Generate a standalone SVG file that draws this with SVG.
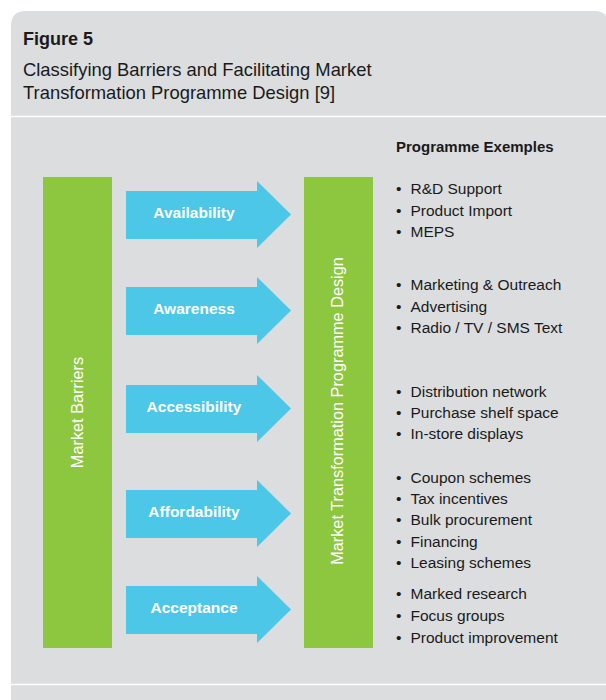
<svg xmlns="http://www.w3.org/2000/svg" width="606" height="700" viewBox="0 0 606 700">
  <style>
    .panel { fill: #dcdddf; }
    .divider { stroke: #ffffff; stroke-width: 1.6; }
    .bar { fill: #8dc63f; }
    .arrow { fill: #4cc7e8; }
    .title { font-family: "Liberation Sans", Arial, sans-serif; font-size: 18px; font-weight: bold; fill: #1a1a1a; }
    .subtitle { font-family: "Liberation Sans", Arial, sans-serif; font-size: 18.4px; fill: #1a1a1a; }
    .head { font-family: "Liberation Sans", Arial, sans-serif; font-size: 15px; font-weight: bold; fill: #1a1a1a; }
    .item { font-family: "Liberation Sans", Arial, sans-serif; font-size: 15.5px; fill: #1a1a1a; }
    .alabel { font-family: "Liberation Sans", Arial, sans-serif; font-size: 15.5px; font-weight: bold; fill: #ffffff; text-anchor: middle; }
    .vlabel { font-family: "Liberation Sans", Arial, sans-serif; font-size: 16.3px; fill: #ffffff; text-anchor: middle; }
  </style>
  <defs>
    <path id="arrowShape" d="M0,0 H131 V-10 L165,23.5 L131,57 V48 H0 Z"/>
  </defs>

  <rect width="606" height="700" fill="#ffffff"/>
  <g id="panel">
    <path class="panel" d="M11,700 V26 Q11,11 26,11 H594 Q609,11 609,26 V700 Z"/>
    <line class="divider" x1="11" y1="116.5" x2="606" y2="116.5"/>
    <line class="divider" x1="11" y1="684.5" x2="606" y2="684.5"/>
  </g>

  <g id="header">
    <text class="title" x="23" y="44.5">Figure 5</text>
    <text class="subtitle" x="23" y="76">Classifying Barriers and Facilitating Market</text>
    <text class="subtitle" x="23" y="99">Transformation Programme Design [9]</text>
  </g>

  <g id="market-barriers">
    <rect class="bar" x="43" y="177" width="69" height="471"/>
    <text class="vlabel" transform="translate(83,412.5) rotate(-90)">Market Barriers</text>
  </g>

  <g id="programme-design">
    <rect class="bar" x="304" y="177" width="69" height="471"/>
    <text class="vlabel" transform="translate(343.3,411) rotate(-90)">Market Transformation Programme Design</text>
  </g>

  <g id="connectors">
    <g id="arrow-availability">
      <use href="#arrowShape" class="arrow" transform="translate(126,191)"/>
      <text class="alabel" x="194" y="218.3">Availability</text>
    </g>
    <g id="arrow-awareness">
      <use href="#arrowShape" class="arrow" transform="translate(126,287)"/>
      <text class="alabel" x="194" y="314.3">Awareness</text>
    </g>
    <g id="arrow-accessibility">
      <use href="#arrowShape" class="arrow" transform="translate(126,385)"/>
      <text class="alabel" x="194" y="411.7">Accessibility</text>
    </g>
    <g id="arrow-affordability">
      <use href="#arrowShape" class="arrow" transform="translate(126,490)"/>
      <text class="alabel" x="194" y="516.7">Affordability</text>
    </g>
    <g id="arrow-acceptance">
      <use href="#arrowShape" class="arrow" transform="translate(126,586)"/>
      <text class="alabel" x="194" y="612.7">Acceptance</text>
    </g>
  </g>

  <g id="programme-examples">
    <text class="head" x="396" y="151.7">Programme Exemples</text>
    <g id="examples-availability">
      <text class="item" y="194"><tspan x="396">•</tspan><tspan x="410.5">R&amp;D Support</tspan></text>
      <text class="item" y="215.5"><tspan x="396">•</tspan><tspan x="410.5">Product Import</tspan></text>
      <text class="item" y="236.7"><tspan x="396">•</tspan><tspan x="410.5">MEPS</tspan></text>
    </g>
    <g id="examples-awareness">
      <text class="item" y="290"><tspan x="396">•</tspan><tspan x="410.5">Marketing &amp; Outreach</tspan></text>
      <text class="item" y="311.5"><tspan x="396">•</tspan><tspan x="410.5">Advertising</tspan></text>
      <text class="item" y="332.7"><tspan x="396">•</tspan><tspan x="410.5">Radio / TV / SMS Text</tspan></text>
    </g>
    <g id="examples-accessibility">
      <text class="item" y="396.7"><tspan x="396">•</tspan><tspan x="410.5">Distribution network</tspan></text>
      <text class="item" y="418.3"><tspan x="396">•</tspan><tspan x="410.5">Purchase shelf space</tspan></text>
      <text class="item" y="439.3"><tspan x="396">•</tspan><tspan x="410.5">In-store displays</tspan></text>
    </g>
    <g id="examples-affordability">
      <text class="item" y="483.3"><tspan x="396">•</tspan><tspan x="410.5">Coupon schemes</tspan></text>
      <text class="item" y="504"><tspan x="396">•</tspan><tspan x="410.5">Tax incentives</tspan></text>
      <text class="item" y="525"><tspan x="396">•</tspan><tspan x="410.5">Bulk procurement</tspan></text>
      <text class="item" y="546.5"><tspan x="396">•</tspan><tspan x="410.5">Financing</tspan></text>
      <text class="item" y="567.7"><tspan x="396">•</tspan><tspan x="410.5">Leasing schemes</tspan></text>
    </g>
    <g id="examples-acceptance">
      <text class="item" y="599.3"><tspan x="396">•</tspan><tspan x="410.5">Marked research</tspan></text>
      <text class="item" y="621"><tspan x="396">•</tspan><tspan x="410.5">Focus groups</tspan></text>
      <text class="item" y="642.7"><tspan x="396">•</tspan><tspan x="410.5">Product improvement</tspan></text>
    </g>
  </g>
</svg>
